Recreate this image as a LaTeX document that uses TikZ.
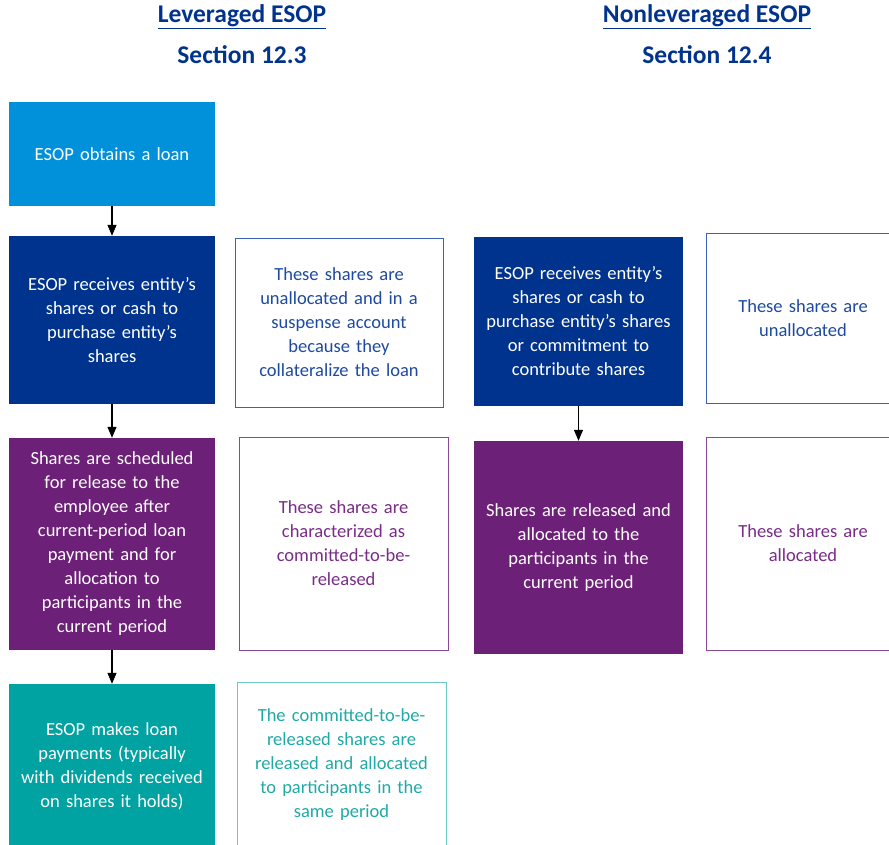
\documentclass[tikz,border=0pt]{standalone}
\usepackage{fontspec}
\setmainfont{Carlito}
\usetikzlibrary{arrows.meta,positioning}

\definecolor{lightblue}{HTML}{0091DA}
\definecolor{darkblue}{HTML}{00338D}
\definecolor{esoppurple}{HTML}{6D2077}
\definecolor{esopteal}{HTML}{00A3A1}
\definecolor{blueline}{HTML}{3A62B8}
\definecolor{bluetext}{HTML}{1E4AA0}
\definecolor{purpletext}{HTML}{7A2C88}
\definecolor{purpleline}{HTML}{8A4A98}
\definecolor{tealtext}{HTML}{1FA9A7}
\definecolor{tealline}{HTML}{6CC8C6}

\begin{document}
\begin{tikzpicture}[x=1pt,y=-1pt,>={Triangle[width=9pt,length=11pt]},
  font=\fontsize{18.5}{24}\selectfont,
  heading/.style={font=\fontsize{25.5}{28}\selectfont\bfseries,text=darkblue},
  stepbox/.style={rectangle,align=center,text=white,inner sep=0pt,
    minimum width=206pt,text width=204pt},
  notebox/.style={rectangle,draw,line width=1pt,fill=white,align=center,
    inner sep=0pt,text width=204pt}]
  \useasboundingbox (0,0) rectangle (889,844);

  % headings
  \node[heading] (levtitle) at (242,17) {\underline{Leveraged ESOP}};
  \node[heading] (levsec) at (242,55) {Section 12.3};
  \node[heading] (nontitle) at (707,17) {\underline{Nonleveraged ESOP}};
  \node[heading] (nonsec) at (707,55) {Section 12.4};

  % leveraged column
  \node[stepbox,fill=lightblue,minimum height=104pt] (loan) at (112,154)
    {ESOP obtains a loan};
  \node[stepbox,fill=darkblue,minimum height=168pt] (receive) at (112,320)
    {ESOP receives entity’s\\shares or cash to\\purchase entity’s\\shares};
  \node[stepbox,fill=esoppurple,minimum height=212pt] (schedule) at (112,544)
    {Shares are scheduled\\for release to the\\employee after\\current-period loan\\payment and for\\allocation to\\participants in the\\current period};
  \node[stepbox,fill=esopteal,minimum height=164pt] (payment) at (112,766)
    {ESOP makes loan\\payments (typically\\with dividends received\\on shares it holds)};

  \node[notebox,draw=blueline,text=bluetext,minimum width=208pt,minimum height=169pt]
    (suspense) at (339,322.5)
    {These shares are\\unallocated and in a\\suspense account\\because they\\collateralize the loan};
  \node[notebox,draw=purpleline,text=purpletext,minimum width=209pt,minimum height=213pt]
    (committed) at (343.5,543.5)
    {These shares are\\characterized as\\committed-to-be-\\released};
  \node[notebox,draw=tealline,text=tealtext,minimum width=209pt,minimum height=166pt]
    (released) at (341.5,765)
    {The committed-to-be-\\released shares are\\released and allocated\\to participants in the\\same period};

  % nonleveraged column
  \node[stepbox,fill=darkblue,minimum width=209pt,minimum height=169pt] (nreceive) at (578.5,321.5)
    {ESOP receives entity’s\\shares or cash to\\purchase entity’s shares\\or commitment to\\contribute shares};
  \node[stepbox,fill=esoppurple,minimum width=209pt,minimum height=213pt] (nrelease) at (578.5,547.5)
    {Shares are released and\\allocated to the\\participants in the\\current period};

  \node[notebox,draw=blueline,text=bluetext,text width=184pt,minimum width=194pt,minimum height=170pt]
    (unalloc) at (803,318)
    {These shares are\\unallocated};
  \node[notebox,draw=purpleline,text=purpletext,text width=184pt,minimum width=194pt,minimum height=213pt]
    (alloc) at (803,543.5)
    {These shares are\\allocated};

  % connectors
  \draw[->,line width=1.2pt] (loan) -- (receive);
  \draw[->,line width=1.2pt] (receive) -- (schedule);
  \draw[->,line width=1.2pt] (schedule) -- (payment);
  \draw[->,line width=1.2pt] (nreceive) -- (nrelease);
\end{tikzpicture}
\end{document}
